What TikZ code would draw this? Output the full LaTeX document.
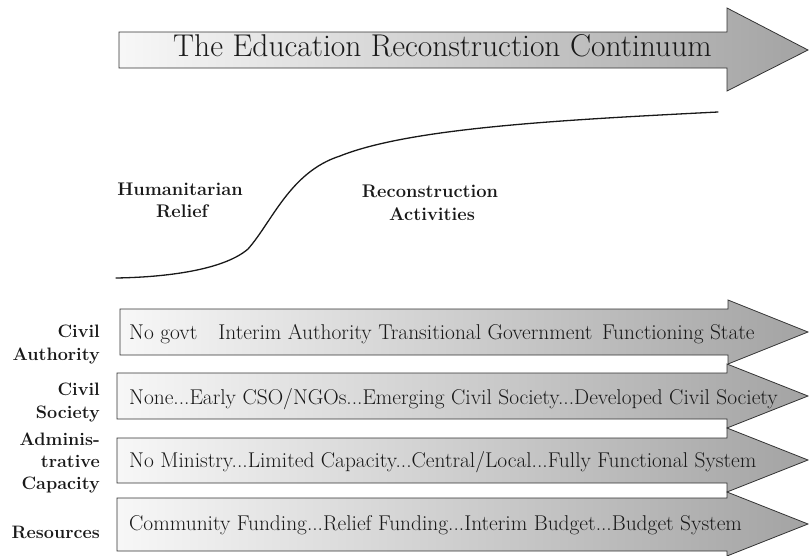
\documentclass[tikz,border=0pt]{standalone}
\usepackage{fontspec}
\tikzset{
  outl/.style={draw=black!80, line width=0.8pt, line join=miter},
  grad/.style={outl, left color=black!3, right color=black!36},
  rowtext/.style={font=\fontsize{21.4}{24}\selectfont, anchor=base west, inner sep=0pt, text=black!90},
  lbl/.style={font=\bfseries\fontsize{18}{22}\selectfont, anchor=base east, inner sep=0pt, text=black!90},
  phase/.style={font=\bfseries\fontsize{18.3}{22}\selectfont, anchor=base, inner sep=0pt, text=black!90},
  curveline/.style={draw=black!90, line width=1.3pt, line cap=round},
}
\begin{document}
\begin{tikzpicture}[x=1pt,y=-1pt]
\useasboundingbox (0,0) rectangle (809,555);
% top arrow
\path[grad] (119,32) -- (727,32) -- (727,8) -- (808,50) -- (727,91) -- (727,68) -- (119,68) -- cycle;
\node[font=\fontsize{31.5}{34}\selectfont, anchor=base west, inner sep=0pt, text=black!90] (title) at (173,56) {The Education Reconstruction Continuum};
% curve
\coordinate (c0) at (116,278);
\coordinate (c1) at (248,249);
\coordinate (c2) at (340,156);
\coordinate (c3) at (718,112);
\draw[curveline] (c0) .. controls (175,277) and (226,268) .. (c1)
  .. controls (272,222) and (290,172) .. (c2)
  .. controls (410,128) and (560,120) .. (c3);
\node[phase] (hum1) at (180,195) {Humanitarian};
\node[phase] (hum2) at (182,217) {Relief};
\node[phase] (rec1) at (430,197) {Reconstruction};
\node[phase] (rec2) at (432,220) {Activities};
% lower arrows
\path[grad] (120,309) -- (728,309) -- (728,300) -- (808,332) -- (728,364) -- (728,355) -- (120,355) -- cycle;
\path[grad] (117,373) -- (727,373) -- (727,364) -- (808,396) -- (727,428) -- (727,419) -- (117,419) -- cycle;
\path[grad] (117,438) -- (727,438) -- (727,428) -- (808,460) -- (727,492) -- (727,483) -- (117,483) -- cycle;
\path[grad] (117,498) -- (727,498) -- (727,492) -- (808,524) -- (727,556) -- (727,551) -- (117,551) -- cycle;
\node[rowtext] (r1) at (129,339) {No govt\hspace{21pt}Interim Authority Transitional Government\hspace{3pt} Functioning State};
\node[rowtext] (r2) at (129,404) {None...Early CSO/NGOs...Emerging Civil Society...Developed Civil Society};
\node[rowtext] (r3) at (129,467) {No Ministry...Limited Capacity...Central/Local...Fully Functional System};
\node[rowtext] (r4) at (129,530) {Community Funding...Relief Funding...Interim Budget...Budget System};
% left labels
\node[lbl] (l1a) at (100,337) {Civil};
\node[lbl] (l1b) at (100,360) {Authority};
\node[lbl] (l2a) at (100,395) {Civil};
\node[lbl] (l2b) at (100,418) {Society};
\node[lbl] (l3a) at (100,445) {Adminis-};
\node[lbl] (l3b) at (100,467) {trative};
\node[lbl] (l3c) at (100,489) {Capacity};
\node[lbl] (l4) at (100,538) {Resources};
\end{tikzpicture}
\end{document}
